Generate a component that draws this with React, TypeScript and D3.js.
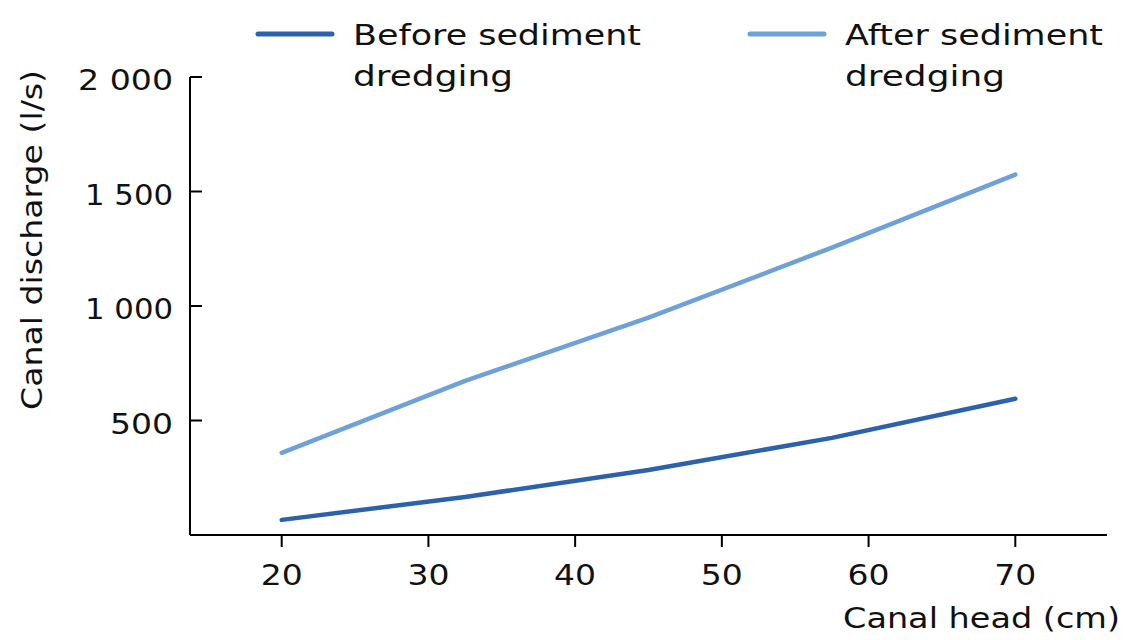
import React from "react";
import * as d3 from "d3";

const canalHead = [20, 32.5, 45, 57.5, 70];
const beforeDredging = [66, 166, 284, 424, 595];
const afterDredging = [359, 673, 949, 1255, 1574];
const xTicks = [20, 30, 40, 50, 60, 70];
const yTicks = [500, 1000, 1500, 2000];
const seriesNames = ["Before sediment", "After sediment"];
const colors = ["#2b62ab", "#6fa1d9"];

const W = 1126;
const H = 640;
const FONT = "'DejaVu Sans', 'Noto Sans', sans-serif";
const FS = 27.5;

// approximate rendered widths of numeric labels (wide geometric font)
const numWidth = (s: string) =>
  s.split("").reduce((a, c) => a + (c === "1" ? 14 : c === " " ? 11 : 21), 0);

export default function App() {
  const x = d3.scaleLinear().domain([13.75, 76.25]).range([190, 1107]);
  const y = d3.scaleLinear().domain([0, 2000]).range([535, 77]);
  const line = d3
    .line<number>()
    .x((_, i) => x(canalHead[i]))
    .y((d) => y(d));
  const fmt = (v: number) => d3.format(",")(v).replace(",", " ");
  const series = [beforeDredging, afterDredging];
  const legendX = [258, 750];
  const legendW = [288, 258];

  return (
    <svg
      width={W}
      height={H}
      style={{ position: "absolute", left: 0, top: 0, background: "#fff" }}
      fontFamily={FONT}
    >
      {/* axes */}
      <line x1={190} x2={190} y1={y(2000)} y2={y(0)} stroke="#000" strokeWidth={2} />
      <line x1={190} x2={1107} y1={y(0)} y2={y(0)} stroke="#000" strokeWidth={2} />
      {yTicks.map((t) => {
        const s = fmt(t);
        return (
          <g key={t}>
            <line x1={190} x2={202} y1={y(t)} y2={y(t)} stroke="#000" strokeWidth={2} />
            <text
              x={173}
              y={y(t) + 13}
              textAnchor="end"
              fontSize={FS}
              fill="#111"
              textLength={numWidth(s)}
              lengthAdjust="spacingAndGlyphs"
            >
              {s}
            </text>
          </g>
        );
      })}
      {xTicks.map((t) => (
        <g key={t}>
          <line x1={x(t)} x2={x(t)} y1={535} y2={547} stroke="#000" strokeWidth={2} />
          <text
            x={x(t)}
            y={585}
            textAnchor="middle"
            fontSize={FS}
            fill="#111"
            textLength={numWidth(String(t))}
            lengthAdjust="spacingAndGlyphs"
          >
            {t}
          </text>
        </g>
      ))}
      <text
        x={1120}
        y={628}
        textAnchor="end"
        fontSize={FS}
        fill="#111"
        textLength={277}
        lengthAdjust="spacingAndGlyphs"
      >
        Canal head (cm)
      </text>
      <text
        transform={`translate(42, 240) rotate(-90)`}
        textAnchor="middle"
        fontSize={FS}
        fill="#111"
        textLength={340}
        lengthAdjust="spacingAndGlyphs"
      >
        Canal discharge (l/s)
      </text>
      {/* lines */}
      {series.map((s, i) => (
        <path
          key={i}
          d={line(s) || ""}
          fill="none"
          stroke={colors[i]}
          strokeWidth={4.5}
          strokeLinecap="round"
          strokeLinejoin="round"
        />
      ))}
      {/* legend */}
      {seriesNames.map((n, i) => (
        <g key={n}>
          <line
            x1={legendX[i]}
            x2={legendX[i] + 74}
            y1={34}
            y2={34}
            stroke={colors[i]}
            strokeWidth={5}
            strokeLinecap="round"
          />
          <text
            x={legendX[i] + 95}
            y={45}
            fontSize={FS}
            fill="#111"
            textLength={legendW[i]}
            lengthAdjust="spacingAndGlyphs"
          >
            {n}
          </text>
          <text
            x={legendX[i] + 95}
            y={86}
            fontSize={FS}
            fill="#111"
            textLength={160}
            lengthAdjust="spacingAndGlyphs"
          >
            dredging
          </text>
        </g>
      ))}
    </svg>
  );
}
